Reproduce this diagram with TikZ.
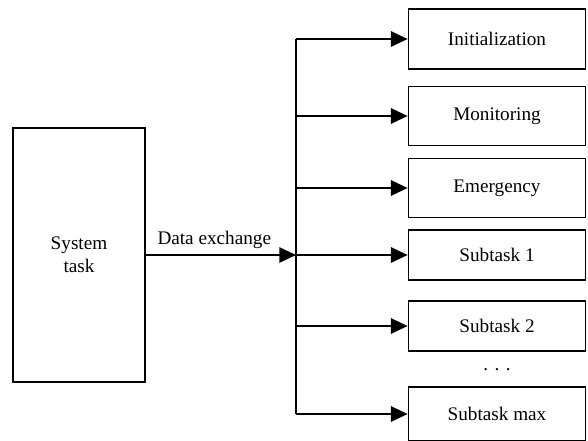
\documentclass[tikz,border=0pt]{standalone}
\usepackage{fontspec}
\setmainfont{Liberation Serif}
\usetikzlibrary{arrows.meta}

\tikzset{
  taskbox/.style={draw, line width=1.3pt, minimum width=132.75pt, inner sep=0pt},
  arr/.style={line width=1.3pt, -{Triangle[length=12.5pt,width=11.5pt]}}
}

\begin{document}
\begin{tikzpicture}[x=0.75pt, y=-0.75pt, font=\fontsize{14.4}{17}\selectfont]
\useasboundingbox (0,0) rectangle (588,440);
% Nodes
\node[taskbox, minimum width=99pt, minimum height=190.5pt, align=center] (sys) at (79,255) {System\\task};
\node[taskbox, minimum height=45pt] (init) at (497,39) {Initialization};
\node[taskbox, minimum height=44.25pt] (mon) at (497,116) {Monitoring};
\node[taskbox, minimum height=44.25pt] (emg) at (497,188) {Emergency};
\node[taskbox, minimum height=37.5pt] (sub1) at (497,255) {Subtask 1};
\node[taskbox, minimum height=37pt] (sub2) at (497,326) {Subtask 2};
\node (dots) at (497,370) {. . .};
\node[taskbox, minimum height=40.5pt] (submax) at (497,414) {Subtask max};
\coordinate (hub) at (296,255);
% Lines
\draw[arr] (sys.east |- hub) -- node[above, yshift=1pt, xshift=-5pt] {Data exchange} (hub);
\draw[line width=1.3pt] (hub |- init.west) -- (hub |- submax.west);
\foreach \t in {init,mon,emg,sub1,sub2,submax}
  \draw[arr] (hub |- \t.west) -- (\t.west);
\end{tikzpicture}
\end{document}
